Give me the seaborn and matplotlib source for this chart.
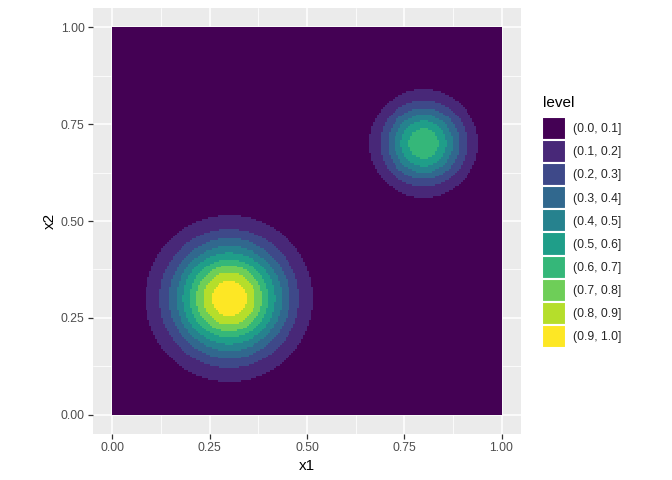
import numpy as np
import matplotlib
matplotlib.use("Agg")
import matplotlib.pyplot as plt
import seaborn as sns
from matplotlib.colors import ListedColormap, BoundaryNorm
from matplotlib.patches import Patch

# two round bumps
bump_x1 = [0.30, 0.80]
bump_x2 = [0.30, 0.70]
bump_height = [1.00, 0.70]
bump_sigma = [0.100, 0.0707]

level_breaks = [0.0, 0.1, 0.2, 0.3, 0.4, 0.5, 0.6, 0.7, 0.8, 0.9, 1.0]
level_labels = ["(0.0, 0.1]", "(0.1, 0.2]", "(0.2, 0.3]", "(0.3, 0.4]", "(0.4, 0.5]",
                "(0.5, 0.6]", "(0.6, 0.7]", "(0.7, 0.8]", "(0.8, 0.9]", "(0.9, 1.0]"]
ticks = [0.0, 0.25, 0.5, 0.75, 1.0]
tick_labels = ["0.00", "0.25", "0.50", "0.75", "1.00"]

sns.set_theme(style="darkgrid", rc={
    "axes.facecolor": "#EBEBEB",
    "grid.color": "white",
    "axes.edgecolor": "#EBEBEB",
})
plt.rcParams["font.family"] = ["Liberation Sans", "DejaVu Sans"]

n = 200
edges = np.linspace(0, 1, n + 1)
centers = (edges[:-1] + edges[1:]) / 2
gx, gy = np.meshgrid(centers, centers)
z = np.zeros_like(gx)
for cx, cy, h, s in zip(bump_x1, bump_x2, bump_height, bump_sigma):
    z += h * np.exp(-((gx - cx) ** 2 + (gy - cy) ** 2) / (2 * s ** 2))
z = np.clip(z, 1e-6, 1.0)

colors = plt.cm.viridis(np.linspace(0, 1, 10))
cmap = ListedColormap(colors)
norm = BoundaryNorm(level_breaks, cmap.N)

fig = plt.figure(figsize=(6.72, 4.8), dpi=100)
ax = fig.add_axes([93 / 672, 1 - 434 / 480, 428 / 672, 426 / 480])
ax.pcolormesh(edges, edges, z, cmap=cmap, norm=norm, shading="flat", zorder=2)

ax.set_xlim(-0.05, 1.05)
ax.set_ylim(-0.05, 1.05)
ax.set_xticks(ticks)
ax.set_xticklabels(tick_labels)
ax.set_yticks(ticks)
ax.set_yticklabels(tick_labels)
ax.set_xticks([0.125, 0.375, 0.625, 0.875], minor=True)
ax.set_yticks([0.125, 0.375, 0.625, 0.875], minor=True)
ax.grid(which="major", color="white", linewidth=1.1, zorder=0)
ax.grid(which="minor", color="white", linewidth=0.55, zorder=0)
ax.set_axisbelow(True)
for sp in ax.spines.values():
    sp.set_visible(False)
ax.tick_params(which="major", length=3.5, width=0.9, color="#333333",
               labelsize=8.8, labelcolor="#4D4D4D", pad=2.5, bottom=True, left=True)
ax.tick_params(which="minor", length=0)
ax.set_xlabel("x1", fontsize=11, color="black", labelpad=3)
ax.set_ylabel("x2", fontsize=11, color="black", labelpad=3)

# legend: title as its own text, keys below
fig.text(543 / 672, 1 - 103 / 480, "level", fontsize=11, color="black",
         ha="left", va="center")
handles = [Patch(facecolor=c, edgecolor="white", linewidth=1.5) for c in colors]
fig.legend(handles, level_labels, loc="upper left",
           bbox_to_anchor=(542 / 672, 1 - 117 / 480), frameon=False,
           fontsize=8.8, handlelength=2.0, handleheight=2.53,
           labelspacing=0.0, handletextpad=0.55, borderaxespad=0, borderpad=0)

fig.savefig("out.png", dpi=100)
